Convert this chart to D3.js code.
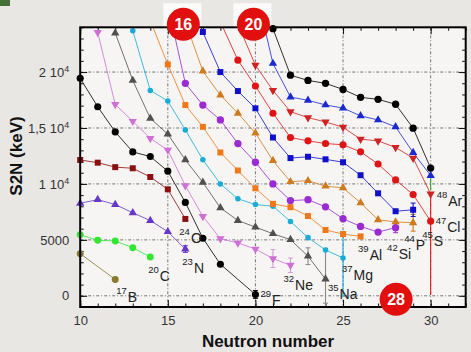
<!DOCTYPE html>
<html><head><meta charset="utf-8">
<script src="https://cdn.jsdelivr.net/npm/d3@7"></script>
<style>
html,body{margin:0;padding:0;background:#e9e7e4;}
svg{display:block;font-family:"Liberation Sans",Arial,sans-serif;}
</style></head><body>
<svg id="chart" width="471" height="352"></svg>
<script>
// Two-neutron separation energy S2N (keV) along isotopic chains, B (Z=5) to Ca (Z=20).
// Each entry: [neutron number, S2N in keV]
const B  = [[10,3770],[12,1460]];
const C  = [[10,5460],[11,4960],[12,4900],[13,4300],[14,3470]];
const N  = [[10,8270],[11,8600],[12,8160],[13,7420],[14,6730],[15,5730],[16,4180]];
const O  = [[10,12140],[11,11900],[12,11500],[13,11400],[14,10620],[15,9520],[16,6870]];
const F  = [[10,19440],[11,16900],[12,14650],[13,12860],[14,12450],[15,11140],[16,8350],[17,5150],[18,2820],[20,120]];
const Ne = [[11,23550],[12,17100],[13,15600],[14,14070],[15,13030],[16,9850],[17,7100],[18,5100],[19,4720],[20,4180],[21,3330],[22,2730]];
const Na = [[12,23490],[13,19250],[14,15860],[15,14450],[16,12150],[17,10140],[18,7860],[19,6730],[20,6140],[21,5550],[22,5020],[23,3540],[24,1490]];
const Mg = [[13,23700],[14,18360],[15,17410],[16,14830],[17,12160],[18,10000],[19,8670],[20,8160],[21,8010],[22,6650],[23,5200],[24,4100],[25,3380]];
const Al = [[14,24600],[15,20680],[16,17050],[17,15100],[18,12810],[19,11200],[20,9610],[21,8220],[22,7920],[23,7130],[24,5880],[25,5520],[26,5310]];
const Si = [[15,26000],[16,18990],[17,17050],[18,15720],[19,13610],[20,11940],[21,10000],[22,8510],[23,8590],[24,7950],[25,6890],[26,6200],[27,5700],[28,6090]];
const P  = [[16,24500],[17,20080],[18,17940],[19,16320],[20,14550],[21,12080],[22,10200],[23,10290],[24,9800],[25,9650],[26,8310],[27,6800],[28,6600],[29,6530]];
const S  = [[16,27500],[17,23580],[18,20000],[19,18300],[20,16760],[21,14150],[22,12310],[23,12430],[24,12200],[25,11940],[26,10780],[27,9160],[28,7560],[29,7690]];
const Cl = [[18,24500],[19,21060],[20,18750],[21,16320],[22,14150],[23,13850],[24,13610],[25,13500],[26,12870],[27,11780],[28,10360],[29,9050],[30,6670]];
const Ar = [[19,24300],[20,20610],[21,18360],[22,16460],[23,15930],[24,15540],[25,15070],[26,14000],[27,13850],[28,13260],[29,12310],[30,9110]];
const K  = [[20,27500],[21,20770],[22,17770],[23,17470],[24,17060],[25,16780],[26,16080],[27,15720],[28,15100],[29,12800],[30,10740]];
const Ca = [[21,23880],[22,19720],[23,19250],[24,18990],[25,18450],[26,17740],[27,17560],[28,17120],[29,14980],[30,11420]];

// uncertainties: [element, neutron number, minus keV, plus keV]
const errorBars = [
  ["N",16,300,300],["F",20,350,350],["Ne",21,800,800],["Ne",22,650,650],
  ["Na",23,750,750],["Na",24,2150,2750],["Mg",25,3400,2300],["Si",28,450,450],
  ["P",29,750,750],["S",29,600,600],["Cl",30,6600,2400],["K",30,1300,0]
];

// last bound isotope of each chain: mass number and symbol
const dripMass   = [17,20,23,24,29,32,35,37,39,42,44,45,47,48];
const dripSymbol = ["B","C","N","O","F","Ne","Na","Mg","Al","Si","P","S","Cl","Ar"];

const magicNumbers = [16,20,28];
const xTicks = [10,15,20,25,30];
const yTicks = [0,5000,10000,15000,20000];
const yTickBase = ["0","5000","1 10","1,5 10","2 10"];
const yTickExp  = ["","","4","4","4"];

const chains = [
  {el:"B",  data:B,  color:"#8a7a2c", shape:"circle", size:38},
  {el:"C",  data:C,  color:"#33e633", shape:"circle", size:38},
  {el:"N",  data:N,  color:"#6536c8", shape:"triangle", size:30},
  {el:"O",  data:O,  color:"#8c1010", shape:"square", size:36},
  {el:"F",  data:F,  color:"#000000", shape:"circle", size:40},
  {el:"Ne", data:Ne, color:"#d070d6", shape:"down", size:30},
  {el:"Na", data:Na, color:"#505050", shape:"triangle", size:30},
  {el:"Mg", data:Mg, color:"#18acd6", shape:"circle", size:24},
  {el:"Al", data:Al, color:"#f07818", shape:"square", size:36},
  {el:"Si", data:Si, color:"#9a2ad2", shape:"circle", size:42},
  {el:"P",  data:P,  color:"#d07a1e", shape:"triangle", size:30},
  {el:"S",  data:S,  color:"#1010cc", shape:"square", size:36},
  {el:"Cl", data:Cl, color:"#e01414", shape:"circle", size:40},
  {el:"Ar", data:Ar, color:"#d02222", shape:"down", size:30},
  {el:"K",  data:K,  color:"#1a2ad0", shape:"triangle", size:30},
  {el:"Ca", data:Ca, color:"#000000", shape:"circle", size:42}
];

const x = d3.scaleLinear().domain([10,32]).range([80.2,465.7]);
const y = d3.scaleLinear().domain([-1000,24000]).range([307,27.3]);
const svg = d3.select("#chart");
const x0 = x(10), x1 = x(32), yT = y(24000), yB = y(-1000);

// small corner icon
svg.append("rect").attr("x",0).attr("y",0).attr("width",10).attr("height",6).attr("fill","#46703a");

// plot background
svg.append("rect").attr("x",x0).attr("y",yT).attr("width",x1-x0).attr("height",yB-yT).attr("fill","#f6f5f4");
svg.append("clipPath").attr("id","plotClip").append("rect")
  .attr("x",x0).attr("y",yT).attr("width",x1-x0).attr("height",yB-yT);

// dashed grid
const grid = svg.append("g").attr("stroke","#555").attr("stroke-width",0.8).attr("stroke-dasharray","3,2,1,2");
grid.selectAll(".gx").data(xTicks.filter(d=>d>10)).join("line")
  .attr("x1",d=>x(d)).attr("x2",d=>x(d)).attr("y1",yT).attr("y2",yB);
grid.selectAll(".gy").data(yTicks).join("line")
  .attr("x1",x0).attr("x2",x1).attr("y1",d=>y(d)).attr("y2",d=>y(d));

// axes with inward ticks
function styleAxis(g){
  g.select(".domain").remove();
  g.selectAll(".tick line").attr("stroke","#111");
  g.attr("font-size",13).attr("font-family","Liberation Sans, Arial, sans-serif");
  g.selectAll(".tick text").attr("fill","#333");
}
const minorX = d3.range(10,33), minorY = d3.range(-1000,24001,1000);
svg.append("g").attr("transform",`translate(0,${yB})`).call(d3.axisBottom(x).tickValues(minorX).tickSize(-3.5).tickFormat("")).call(styleAxis);
svg.append("g").attr("transform",`translate(0,${yB})`).call(d3.axisBottom(x).tickValues(xTicks).tickSize(-7).tickPadding(9).tickFormat(d3.format("d"))).call(styleAxis);
svg.append("g").attr("transform",`translate(0,${yT})`).call(d3.axisTop(x).tickValues(minorX).tickSize(-3.5).tickFormat("")).call(styleAxis);
svg.append("g").attr("transform",`translate(0,${yT})`).call(d3.axisTop(x).tickValues(xTicks).tickSize(-7).tickFormat("")).call(styleAxis);
svg.append("g").attr("transform",`translate(${x0},0)`).call(d3.axisLeft(y).tickValues(minorY).tickSize(-3.5).tickFormat("")).call(styleAxis);
const gL = svg.append("g").attr("transform",`translate(${x0},0)`)
  .call(d3.axisLeft(y).tickValues(yTicks).tickSize(-7).tickPadding(11).tickFormat((d,i)=>yTickBase[i])).call(styleAxis);
gL.selectAll(".tick text").each(function(d,i){
  if (yTickExp[i]) d3.select(this).append("tspan").attr("font-size",9).attr("dy","-0.55em").text(yTickExp[i]);
});
svg.append("g").attr("transform",`translate(${x1},0)`).call(d3.axisRight(y).tickValues(minorY).tickSize(-3.5).tickFormat("")).call(styleAxis);
svg.append("g").attr("transform",`translate(${x1},0)`).call(d3.axisRight(y).tickValues(yTicks).tickSize(-7).tickFormat("")).call(styleAxis);

// chain lines
const line = d3.line().x(d=>x(d[0])).y(d=>y(d[1]));
const gLines = svg.append("g").attr("clip-path","url(#plotClip)");
chains.forEach(c=>{
  gLines.append("path").attr("d",line(c.data)).attr("fill","none")
    .attr("stroke",c.color).attr("stroke-width",0.9).attr("stroke-opacity",0.9);
});

// error bars
const chainByEl = Object.fromEntries(chains.map(c=>[c.el,c]));
const gErr = svg.append("g").attr("clip-path","url(#plotClip)");
errorBars.forEach(([el,n,lo,hi])=>{
  const c = chainByEl[el];
  const pt = c.data.find(p=>p[0]===n);
  const col = el==="K" ? "#3aaa3a" : (el==="Ne" ? "#d89ad8" : (el==="Na" ? "#888" : c.color));
  const xa = x(n), ya = y(pt[1]-lo), yb = y(pt[1]+hi);
  gErr.append("line").attr("x1",xa).attr("x2",xa).attr("y1",ya).attr("y2",yb).attr("stroke",col).attr("stroke-width",1.1);
  [ya,yb].forEach(v=>{ if (el!=="K" && el!=="Cl") gErr.append("line").attr("x1",xa-2.5).attr("x2",xa+2.5).attr("y1",v).attr("y2",v).attr("stroke",col).attr("stroke-width",1);});
});

// markers
const shapes = {circle:d3.symbolCircle, square:d3.symbolSquare, triangle:d3.symbolTriangle, down:d3.symbolTriangle};
const gPts = svg.append("g");
chains.forEach(c=>{
  const sym = d3.symbol().type(shapes[c.shape]).size(c.size);
  gPts.selectAll(null).data(c.data.filter(d=>d[1]<=24100)).join("path")
    .attr("d",sym)
    .attr("transform",d=>`translate(${x(d[0])},${y(d[1])})${c.shape==="down"?" rotate(180)":""}`)
    .attr("fill",c.color);
});

// frame
svg.append("rect").attr("x",x0).attr("y",yT).attr("width",x1-x0).attr("height",yB-yT)
  .attr("fill","none").attr("stroke","#000").attr("stroke-width",2);

// drip-line labels, placed next to the last point of each chain
const labelOffset = {B:[1,22.5],C:[-2,24],N:[-3,24],O:[-6,24],F:[5,10.5],Ne:[-7,25],Na:[2.5,20],
  Mg:[-1,22],Al:[-2.5,23.5],Si:[-8.5,31],P:[-9,27],S:[9,36],Cl:[5,11],Ar:[6,12]};
const gLab = svg.append("g").attr("fill","#222");
dripSymbol.forEach((el,i)=>{
  const last = chainByEl[el].data[chainByEl[el].data.length-1];
  const [dx,dy] = labelOffset[el];
  const t = gLab.append("text").attr("x",x(last[0])+dx).attr("y",y(last[1])+dy);
  t.append("tspan").attr("font-size",9.5).attr("dy",-8).text(dripMass[i]);
  t.append("tspan").attr("font-size",14).attr("dy",8).attr("dx",1).text(el);
});

// magic-number badges
const badgePos = [[x(16)-2, yT-3],[x(20)-2, yT-3],[x(28)+0.5, yB-7.7]];
magicNumbers.forEach((m,i)=>{
  const [bx,by] = badgePos[i];
  if (i<2) svg.insert("rect","rect").attr("x",bx-20).attr("y",by-21).attr("width",38).attr("height",24).attr("fill","#fbfbfb");
  svg.append("circle").attr("cx",bx).attr("cy",by).attr("r",16.5).attr("fill","#e20f0f");
  svg.append("text").attr("x",bx).attr("y",by).attr("dy","0.36em").attr("text-anchor","middle")
    .attr("fill","#fff").attr("font-weight","bold").attr("font-size",16).text(m);
});

// axis titles
svg.append("text").attr("transform","translate(22,156) rotate(-90)").attr("text-anchor","middle")
  .attr("font-weight","bold").attr("font-size",17).attr("fill","#111").text("S2N (keV)");
svg.append("text").attr("x",268).attr("y",347).attr("text-anchor","middle")
  .attr("font-weight","bold").attr("font-size",17).attr("fill","#111").text("Neutron number");
</script>
</body></html>
